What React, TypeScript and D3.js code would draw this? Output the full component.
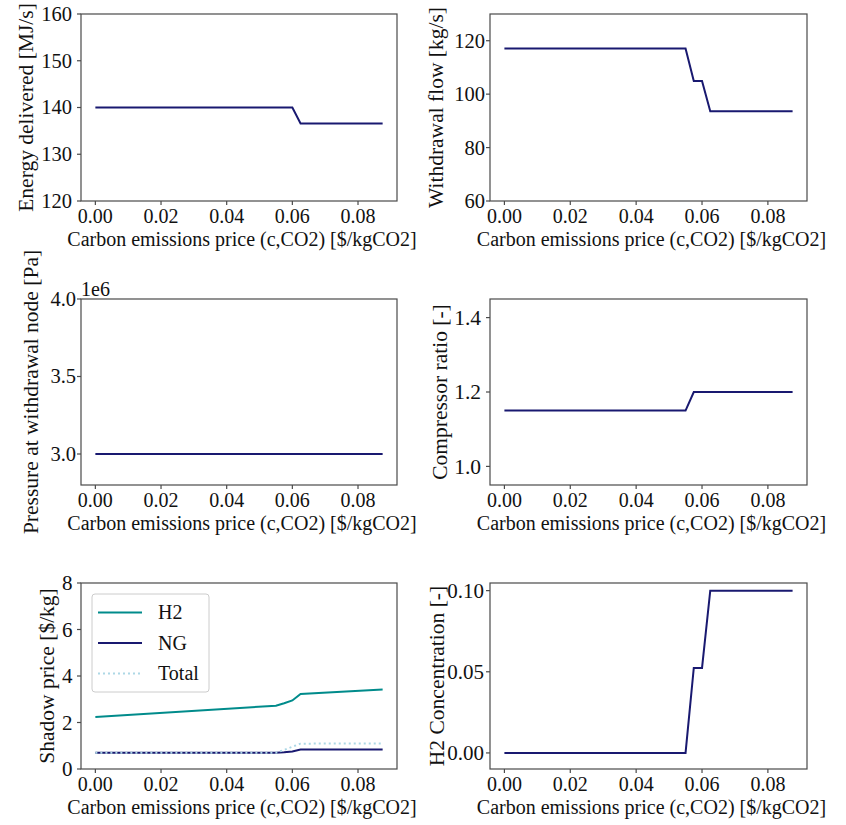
import React from 'react'
import * as d3 from 'd3'

// carbon emissions price sweep [$/kgCO2] (breakpoints of the piecewise results)
const carbonPrice = [0, 0.055, 0.0575, 0.06, 0.0625, 0.0875]

const energyDelivered = [140, 140, 140, 140, 136.6, 136.6]
const withdrawalFlow = [117.1, 117.1, 104.9, 104.9, 93.6, 93.6]
const withdrawalPressure = [3.0e6, 3.0e6, 3.0e6, 3.0e6, 3.0e6, 3.0e6]
const compressorRatio = [1.15, 1.15, 1.2, 1.2, 1.2, 1.2]
const shadowH2 = [2.24, 2.72, 2.83, 2.95, 3.23, 3.42]
const shadowNG = [0.7, 0.7, 0.72, 0.75, 0.84, 0.84]
const shadowTotal = [0.7, 0.7, 0.82, 0.96, 1.09, 1.1]
const h2Concentration = [0, 0, 0.0524, 0.0524, 0.1, 0.1]

const xTicks = [0, 0.02, 0.04, 0.06, 0.08]
const xLabel = 'Carbon emissions price (c,CO2) [$/kgCO2]'

const FONT = "'Liberation Serif', serif"
const NAVY = '#191970'
const TEAL = '#008b8b'
const LIGHT = '#add8e6'
const SPINE = '#4a4a4a'

const pad = (carbonPrice[carbonPrice.length - 1] - carbonPrice[0]) * 0.05
const xDomain = [carbonPrice[0] - pad, carbonPrice[carbonPrice.length - 1] + pad]

function Panel({
  left,
  top,
  width,
  height,
  yDomain,
  yTicks,
  yFormat,
  yLabel,
  yLabelOffset,
  yTickGap = 8.5,
  yTickSize = 20.5,
  series,
  offsetText,
  legend,
}) {
  const x = d3.scaleLinear().domain(xDomain).range([0, width])
  const y = d3.scaleLinear().domain(yDomain).range([height, 0])
  const line = d3
    .line()
    .x((d) => x(d[0]))
    .y((d) => y(d[1]))
  const fmtX = d3.format('.2f')

  return (
    <g transform={`translate(${left},${top})`} style={{fontFamily: FONT, fontSize: 20}} fill="#111">
      <defs>
        <clipPath id={`clip-${left}-${top}`}>
          <rect x={0} y={0} width={width} height={height} />
        </clipPath>
      </defs>
      <g clipPath={`url(#clip-${left}-${top})`}>
        {series.map((s, i) => (
          <path
            key={i}
            d={line(carbonPrice.map((c, j) => [c, s.values[j]]))}
            fill="none"
            stroke={s.color}
            strokeWidth={2}
            strokeDasharray={s.dash || null}
          />
        ))}
      </g>
      <rect x={0} y={0} width={width} height={height} fill="none" stroke={SPINE} strokeWidth={1.2} />
      {xTicks.map((t) => (
        <g key={t} transform={`translate(${x(t)},${height})`}>
          <line y2={4} stroke={SPINE} strokeWidth={1.2} />
          <text y={22} textAnchor="middle">
            {fmtX(t)}
          </text>
        </g>
      ))}
      {yTicks.map((t) => (
        <g key={t} transform={`translate(0,${y(t)})`}>
          <line x2={-4} stroke={SPINE} strokeWidth={1.2} />
          <text x={-yTickGap} dy="0.34em" textAnchor="end" style={{fontSize: yTickSize}}>
            {yFormat(t)}
          </text>
        </g>
      ))}
      <text x={width / 2 + 3} y={height + 44.5} textAnchor="middle">
        {xLabel}
      </text>
      <text
        transform={`translate(${-yLabelOffset},${height / 2}) rotate(-90)`}
        textAnchor="middle"
        style={{fontSize: 21.5}}
      >
        {yLabel}
      </text>
      {offsetText && (
        <text x={0} y={-3}>
          {offsetText}
        </text>
      )}
      {legend && (
        <g transform="translate(11,11)">
          <rect width={117} height={98} rx={3} fill="#fff" fillOpacity={0.8} stroke="#ccc" />
          {legend.map((s, i) => (
            <g key={s.name} transform={`translate(0,${18.5 + i * 30.5})`}>
              <line x1={6} x2={50} stroke={s.color} strokeWidth={2} strokeDasharray={s.dash || null} />
              <text x={66} dy="0.34em">
                {s.name}
              </text>
            </g>
          ))}
        </g>
      )}
    </g>
  )
}

export default function App() {
  const d0 = d3.format('d')
  const f1 = d3.format('.1f')
  const f2 = d3.format('.2f')
  const shadowSeries = [
    {name: 'H2', values: shadowH2, color: TEAL},
    {name: 'NG', values: shadowNG, color: NAVY},
    {name: 'Total', values: shadowTotal, color: LIGHT, dash: '2,3'},
  ]

  return (
    <div style={{position: 'absolute', left: 0, top: 0}}>
      <svg width={846} height={825} style={{display: 'block', background: '#fff'}}>
        <Panel
          left={81}
          top={14}
          width={316}
          height={187}
          yDomain={[120, 160]}
          yTicks={[120, 130, 140, 150, 160]}
          yFormat={d0}
          yLabel="Energy delivered [MJ/s]"
          yLabelOffset={48}
          yTickGap={9}
          series={[{values: energyDelivered, color: NAVY}]}
        />
        <Panel
          left={490}
          top={14}
          width={317}
          height={187}
          yDomain={[60, 130]}
          yTicks={[60, 80, 100, 120]}
          yFormat={d0}
          yLabel="Withdrawal flow [kg/s]"
          yLabelOffset={47}
          yTickGap={5}
          series={[{values: withdrawalFlow, color: NAVY}]}
        />
        <Panel
          left={81}
          top={299}
          width={316}
          height={186}
          yDomain={[2.8e6, 4.0e6]}
          yTicks={[3.0e6, 3.5e6, 4.0e6]}
          yFormat={(v) => f1(v / 1e6)}
          yLabel="Pressure at withdrawal node [Pa]"
          yLabelOffset={43}
          yTickGap={5}
          offsetText="1e6"
          series={[{values: withdrawalPressure, color: NAVY}]}
        />
        <Panel
          left={490}
          top={299}
          width={317}
          height={186}
          yDomain={[0.95, 1.45]}
          yTicks={[1.0, 1.2, 1.4]}
          yFormat={f1}
          yLabel="Compressor ratio [-]"
          yLabelOffset={43}
          yTickGap={9}
          yTickSize={21.5}
          series={[{values: compressorRatio, color: NAVY}]}
        />
        <Panel
          left={81}
          top={583}
          width={316}
          height={186}
          yDomain={[0, 8]}
          yTicks={[0, 2, 4, 6, 8]}
          yFormat={d0}
          yLabel="Shadow price [$/kg]"
          yLabelOffset={27}
          yTickGap={8.5}
          yTickSize={21}
          series={shadowSeries}
          legend={shadowSeries}
        />
        <Panel
          left={490}
          top={583}
          width={317}
          height={186}
          yDomain={[-0.0099, 0.1047]}
          yTicks={[0, 0.05, 0.1]}
          yFormat={f2}
          yLabel="H2 Concentration [-]"
          yLabelOffset={46.5}
          yTickGap={6}
          yTickSize={21}
          series={[{values: h2Concentration, color: NAVY}]}
        />
      </svg>
    </div>
  )
}
